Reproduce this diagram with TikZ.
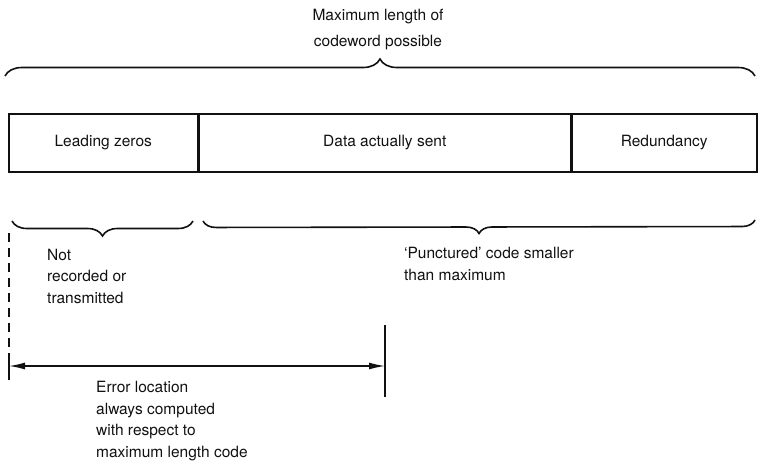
\documentclass[tikz,border=0pt]{standalone}
\usepackage{fontspec}
\setmainfont{TeX Gyre Heros}
\usepackage{tikz}
\usetikzlibrary{arrows.meta,positioning,calc,decorations.pathreplacing}
\definecolor{ink}{HTML}{111111}
\tikzset{
  >={Latex[length=16pt,width=7pt]},
  cell/.style={draw=ink,line width=1.5pt,minimum height=58pt,inner sep=0pt,anchor=west},
  lab/.style={align=left,anchor=west,inner sep=0pt},
  brc/.style={draw=ink,line width=1.6pt,decorate,decoration={brace,amplitude=#1}},
  brc/.default=15pt,
  arr/.style={<->,draw=ink,line width=1.4pt},
  tick/.style={draw=ink,line width=1.4pt},
}

\begin{document}
\begin{tikzpicture}[x=1pt,y=-1pt,every node/.style={font=\fontsize{15.5}{21.5}\selectfont,text=ink}]
\useasboundingbox (0,0) rectangle (758,467);
\node[align=center] (max) at (378,30) {Maximum length of\\[4.5pt]codeword possible};
\node[cell,minimum width=189pt] (lz) at (8,143) {Leading zeros};
\node[cell,minimum width=371pt,right=0pt of lz] (data) {Data actually sent};
\node[cell,minimum width=185pt,right=0pt of data] (red) {Redundancy};
\coordinate (tl) at (5,76); \coordinate (tr) at (755,76);
\draw[brc=17pt] (tl) -- (tr);
\coordinate (al) at (12,221); \coordinate (ar) at (193,221);
\coordinate (bl) at (203,221); \coordinate (br) at (755,220);
\draw[brc] (ar) -- (al);
\draw[brc=13pt] (br) -- (bl);
\node[lab] (nrt) at (47,276) {Not\\recorded or\\transmitted};
\node[lab] (punc) at (404,264) {‘Punctured’ code smaller\\than maximum};
\coordinate (dtop) at (9,233); \coordinate (dl) at (9,362);
\coordinate (el) at (9,366); \coordinate (er) at (385,366);
\coordinate (vt) at (385,325); \coordinate (vb) at (385,397);
\draw[tick,dashed,dash pattern=on 9pt off 6pt] (dtop) -- (dl);
\draw[tick] (dl) -- (9,380);
\draw[tick] (vt) -- (vb);
\draw[arr] (el) -- (er);
\node[lab] (err) at (96,421) {Error location\\always computed\\with respect to\\maximum length code};
\end{tikzpicture}
\end{document}
